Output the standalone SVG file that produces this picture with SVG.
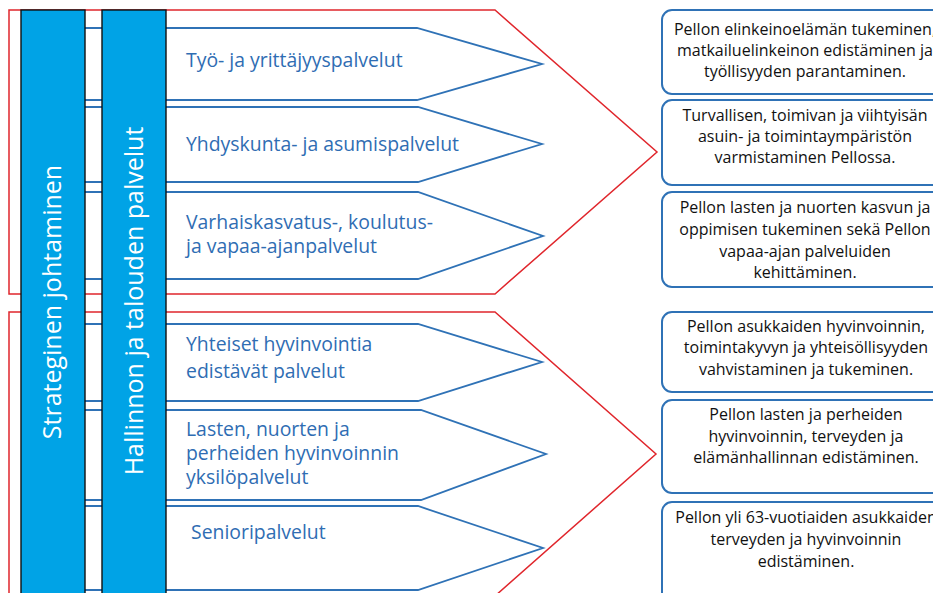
<svg xmlns="http://www.w3.org/2000/svg" width="933" height="593" viewBox="0 0 933 593">
<style>
.red{fill:none;stroke:#e0262c;stroke-width:1.5}
.arr{fill:#fff;stroke:#2f72b6;stroke-width:1.8}
.bar{fill:#00a3e6;stroke:#111;stroke-width:1.4}
.box{fill:#fff;stroke:#2f72b6;stroke-width:2}
.lbl{font-family:"Open Sans","Noto Sans",sans-serif;font-size:19.4px;fill:#2f6db3}
.vt{font-family:"Open Sans","Noto Sans",sans-serif;font-size:25px;fill:#fff;text-anchor:middle}
.bt{font-family:"Open Sans","Noto Sans",sans-serif;font-size:16px;fill:#111;text-anchor:middle}
</style>
<rect width="933" height="593" fill="#fff"/>
<g id="region-upper"><polygon class="red" points="9,10 495,10 657,152 495,294 9,294"/></g>
<g id="region-lower"><polygon class="red" points="9,312 495,312 656,454 495,596 9,596"/></g>
<g id="service-1"><polygon class="arr" points="60,28 417,28 542,64 417,100 60,100"/><text class="lbl" x="186" y="67">Työ- ja yrittäjyyspalvelut</text></g>
<g id="service-2"><polygon class="arr" points="60,107 418,107 542,144 418,182 60,182"/><text class="lbl" x="186" y="151">Yhdyskunta- ja asumispalvelut</text></g>
<g id="service-3"><polygon class="arr" points="60,192 418,192 543,236 418,279 60,279"/><text class="lbl" x="186" y="229">Varhaiskasvatus-, koulutus-</text><text class="lbl" x="186" y="253">ja vapaa-ajanpalvelut</text></g>
<g id="service-4"><polygon class="arr" points="60,324 418,324 542,362 418,401 60,401"/><text class="lbl" x="186" y="351">Yhteiset hyvinvointia</text><text class="lbl" x="186" y="378">edistävät palvelut</text></g>
<g id="service-5"><polygon class="arr" points="60,410 421,410 546,454 421,500 60,500"/><text class="lbl" x="186" y="436">Lasten, nuorten ja</text><text class="lbl" x="186" y="460">perheiden hyvinvoinnin</text><text class="lbl" x="186" y="484">yksilöpalvelut</text></g>
<g id="service-6"><polygon class="arr" points="60,506 418,506 543,548 418,590 60,590"/><text class="lbl" x="191" y="539">Senioripalvelut</text></g>
<g id="bar-strategy"><rect class="bar" x="21" y="10" width="64" height="600"/><text class="vt" transform="translate(61,302) rotate(-90)">Strateginen johtaminen</text></g>
<g id="bar-admin"><rect class="bar" x="102" y="10" width="64" height="600"/><text class="vt" transform="translate(143,301) rotate(-90)">Hallinnon ja talouden palvelut</text></g>
<g id="goal-1"><rect class="box" x="662" y="10" width="290" height="84" rx="10"/><text class="bt" x="805" y="35">Pellon elinkeinoelämän tukeminen,</text><text class="bt" x="805" y="56">matkailuelinkeinon edistäminen ja</text><text class="bt" x="805" y="77">työllisyyden parantaminen.</text></g>
<g id="goal-2"><rect class="box" x="662" y="100" width="290" height="85" rx="10"/><text class="bt" x="805" y="121">Turvallisen, toimivan ja viihtyisän</text><text class="bt" x="805" y="142">asuin- ja toimintaympäristön</text><text class="bt" x="805" y="163">varmistaminen Pellossa.</text></g>
<g id="goal-3"><rect class="box" x="662" y="192" width="290" height="95" rx="10"/><text class="bt" x="805" y="213">Pellon lasten ja nuorten kasvun ja</text><text class="bt" x="805" y="235">oppimisen tukeminen sekä Pellon</text><text class="bt" x="805" y="257">vapaa-ajan palveluiden</text><text class="bt" x="805" y="278">kehittäminen.</text></g>
<g id="goal-4"><rect class="box" x="662" y="312" width="290" height="80" rx="10"/><text class="bt" x="806" y="332">Pellon asukkaiden hyvinvoinnin,</text><text class="bt" x="806" y="353">toimintakyvyn ja yhteisöllisyyden</text><text class="bt" x="806" y="375">vahvistaminen ja tukeminen.</text></g>
<g id="goal-5"><rect class="box" x="662" y="400" width="290" height="93" rx="10"/><text class="bt" x="806" y="420">Pellon lasten ja perheiden</text><text class="bt" x="806" y="442">hyvinvoinnin, terveyden ja</text><text class="bt" x="806" y="463">elämänhallinnan edistäminen.</text></g>
<g id="goal-6"><rect class="box" x="662" y="502" width="290" height="110" rx="10"/><text class="bt" x="806" y="523">Pellon yli 63-vuotiaiden asukkaiden</text><text class="bt" x="806" y="545">terveyden ja hyvinvoinnin</text><text class="bt" x="806" y="567">edistäminen.</text></g>
</svg>
